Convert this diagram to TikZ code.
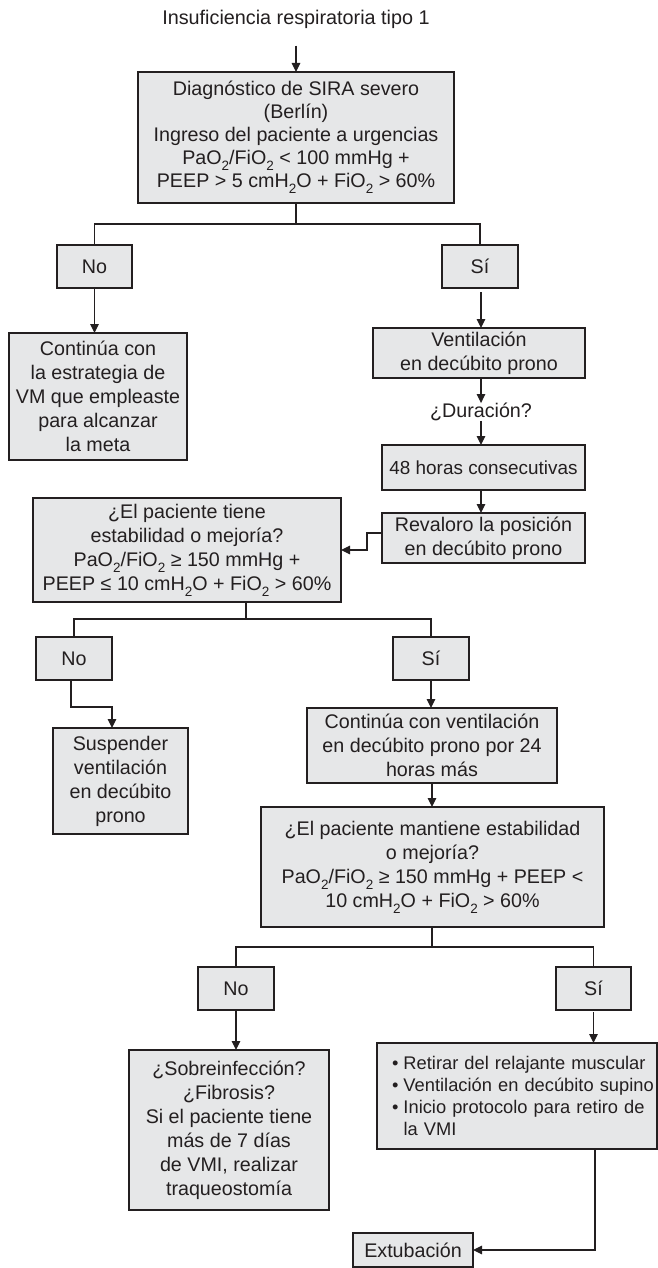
\documentclass[tikz,border=0pt]{standalone}
\usepackage{fontspec}
\setmainfont{Liberation Sans}
\usepackage{graphicx}
\usetikzlibrary{arrows.meta,calc}
\newcommand\dn[1]{\raisebox{-0.55ex}{\fontsize{13.5}{13.5}\selectfont #1}}
\definecolor{boxfill}{HTML}{E6E7E8}
\definecolor{ink}{HTML}{231F20}
\begin{document}
\begin{tikzpicture}[x=1pt,y=-1pt,
  every node/.style={inner sep=0pt, outer sep=0pt},
  box/.style={draw=ink, fill=boxfill, line width=1.2pt, align=center, font=\fontsize{19.7}{24}\selectfont, text=ink},
  plain/.style={align=center, font=\fontsize{19.7}{24}\selectfont, text=ink},
  conn/.style={draw=ink, line width=1.2pt},
  arr/.style={conn, -{Triangle[length=9pt,width=8.5pt]}},
]
\useasboundingbox (0,0) rectangle (658,1268);
\fill[white] (0,0) rectangle (658,1268);

% nodes
\node[plain, font=\fontsize{19.8}{24}\selectfont] (title) at (296,19.5) {Insuficiencia respiratoria tipo 1};
\node[box, minimum width=316, minimum height=131, font=\fontsize{19.7}{23}\selectfont] (diag) at (296,137.5)
  {Diagnóstico de SIRA severo\\(Berlín)\\Ingreso del paciente a urgencias\\PaO\dn{2}/FiO\dn{2} < 100 mmHg +\\PEEP > 5 cmH\dn{2}O + FiO\dn{2} > 60\%};
\node[box, minimum width=75, minimum height=43] (no1) at (94.5,266.5) {No};
\node[box, minimum width=76, minimum height=43] (si1) at (480,266.5) {Sí};
\node[box, minimum width=178, minimum height=127] (cont1) at (98,396.5)
  {Continúa con\\la estrategia de\\VM que empleaste\\para alcanzar\\la meta};
\node[box, minimum width=212, minimum height=50] (vent) at (479,353) {Ventilación\\en decúbito prono};
\node[plain] (dur) at (481,412) {¿Duración?};
\node[box, minimum width=203, minimum height=45, font=\fontsize{18.9}{22}\selectfont] (h48) at (483.5,467.5) {48 horas consecutivas};
\node[box, minimum width=203, minimum height=50] (reval) at (483.5,538) {Revaloro la posición\\en decúbito prono};
\node[box, minimum width=308, minimum height=104] (box2) at (187,550)
  {¿El paciente tiene\\estabilidad o mejoría?\\PaO\dn{2}/FiO\dn{2} ≥ 150 mmHg +\\PEEP ≤ 10 cmH\dn{2}O + FiO\dn{2} > 60\%};
\node[box, minimum width=76, minimum height=43] (no2) at (74,658.5) {No};
\node[box, minimum width=76, minimum height=43] (si2) at (431,658.5) {Sí};
\node[box, minimum width=135, minimum height=106] (susp) at (120.5,781) {Suspender\\ventilación\\en decúbito\\prono};
\node[box, minimum width=250, minimum height=75] (cont2) at (432,745.5)
  {Continúa con ventilación\\en decúbito prono por 24\\horas más};
\node[box, minimum width=343, minimum height=120] (box3) at (432.5,867)
  {¿El paciente mantiene estabilidad\\o mejoría?\\PaO\dn{2}/FiO\dn{2} ≥ 150 mmHg + PEEP <\\10 cmH\dn{2}O + FiO\dn{2} > 60\%};
\node[box, minimum width=76, minimum height=43] (no3) at (236,988.5) {No};
\node[box, minimum width=75, minimum height=43] (si3) at (593.5,988.5) {Sí};
\node[box, minimum width=200, minimum height=160] (sobre) at (229,1130)
  {¿Sobreinfección?\\¿Fibrosis?\\Si el paciente tiene\\más de 7 días\\de VMI, realizar\\traqueostomía};
\node[box, align=left, text width=250, inner xsep=15pt, minimum width=280, minimum height=106,
      font=\fontsize{18.3}{22}\selectfont] (bullets) at (517,1096)
  {\mbox{\makebox[11.5pt][l]{•}Retirar del relajante muscular}\\
   \mbox{\makebox[11.5pt][l]{•}Ventilación en decúbito supino}\\
   \mbox{\makebox[11.5pt][l]{•}Inicio protocolo para retiro de}\\
   \mbox{\hspace*{11.5pt}la VMI}};
\node[box, minimum width=120, minimum height=34] (extub) at (413,1250) {Extubación};

% connectors
\draw[arr, shorten <=17pt] (title.south) -- (diag.north);
\coordinate (b1) at (296,224);
\draw[conn] (diag.south) -- (b1);
\draw[conn] (no1.north) -- (no1.north |- b1) -- (si1.north |- b1) -- (si1.north);
\draw[arr] (no1.south) -- (no1.south |- cont1.north);
\draw[arr, shorten <=4pt] ([xshift=1pt]si1.south) -- ([xshift=1pt]si1.south |- vent.north);
\draw[arr] (vent.south -| dur) -- (dur.north);
\draw[arr] (dur.south) -- (dur.south |- h48.north);
\draw[arr] (h48.south -| dur) -- (reval.north -| dur);
\draw[arr] ([yshift=5pt]reval.west) -- ++(-15,0) |- (box2.east);
\coordinate (b2) at (246,619);
\draw[conn] (box2.south -| b2) -- (b2);
\draw[conn] (no2.north) -- (no2.north |- b2) -- (si2.north |- b2) -- (si2.north);
\coordinate (k2) at (112,707);
\draw[arr] ([xshift=-3pt]no2.south) |- (k2) -- (k2 |- susp.north);
\draw[arr] (si2.south) -- (si2.south |- cont2.north);
\draw[arr] (cont2.south) -- (cont2.south |- box3.north);
\coordinate (b3) at (432,947);
\draw[conn] (box3.south -| b3) -- (b3);
\draw[conn] (no3.north) -- (no3.north |- b3) -- (si3.north |- b3) -- (si3.north);
\draw[arr] (no3.south) -- (no3.south |- sobre.north);
\draw[arr, shorten <=2pt] (si3.south) -- (si3.south |- bullets.north);
\coordinate (k3) at (595,1250);
\draw[arr] (bullets.south -| k3) -- (k3) -- (extub.east);
\end{tikzpicture}
\end{document}
